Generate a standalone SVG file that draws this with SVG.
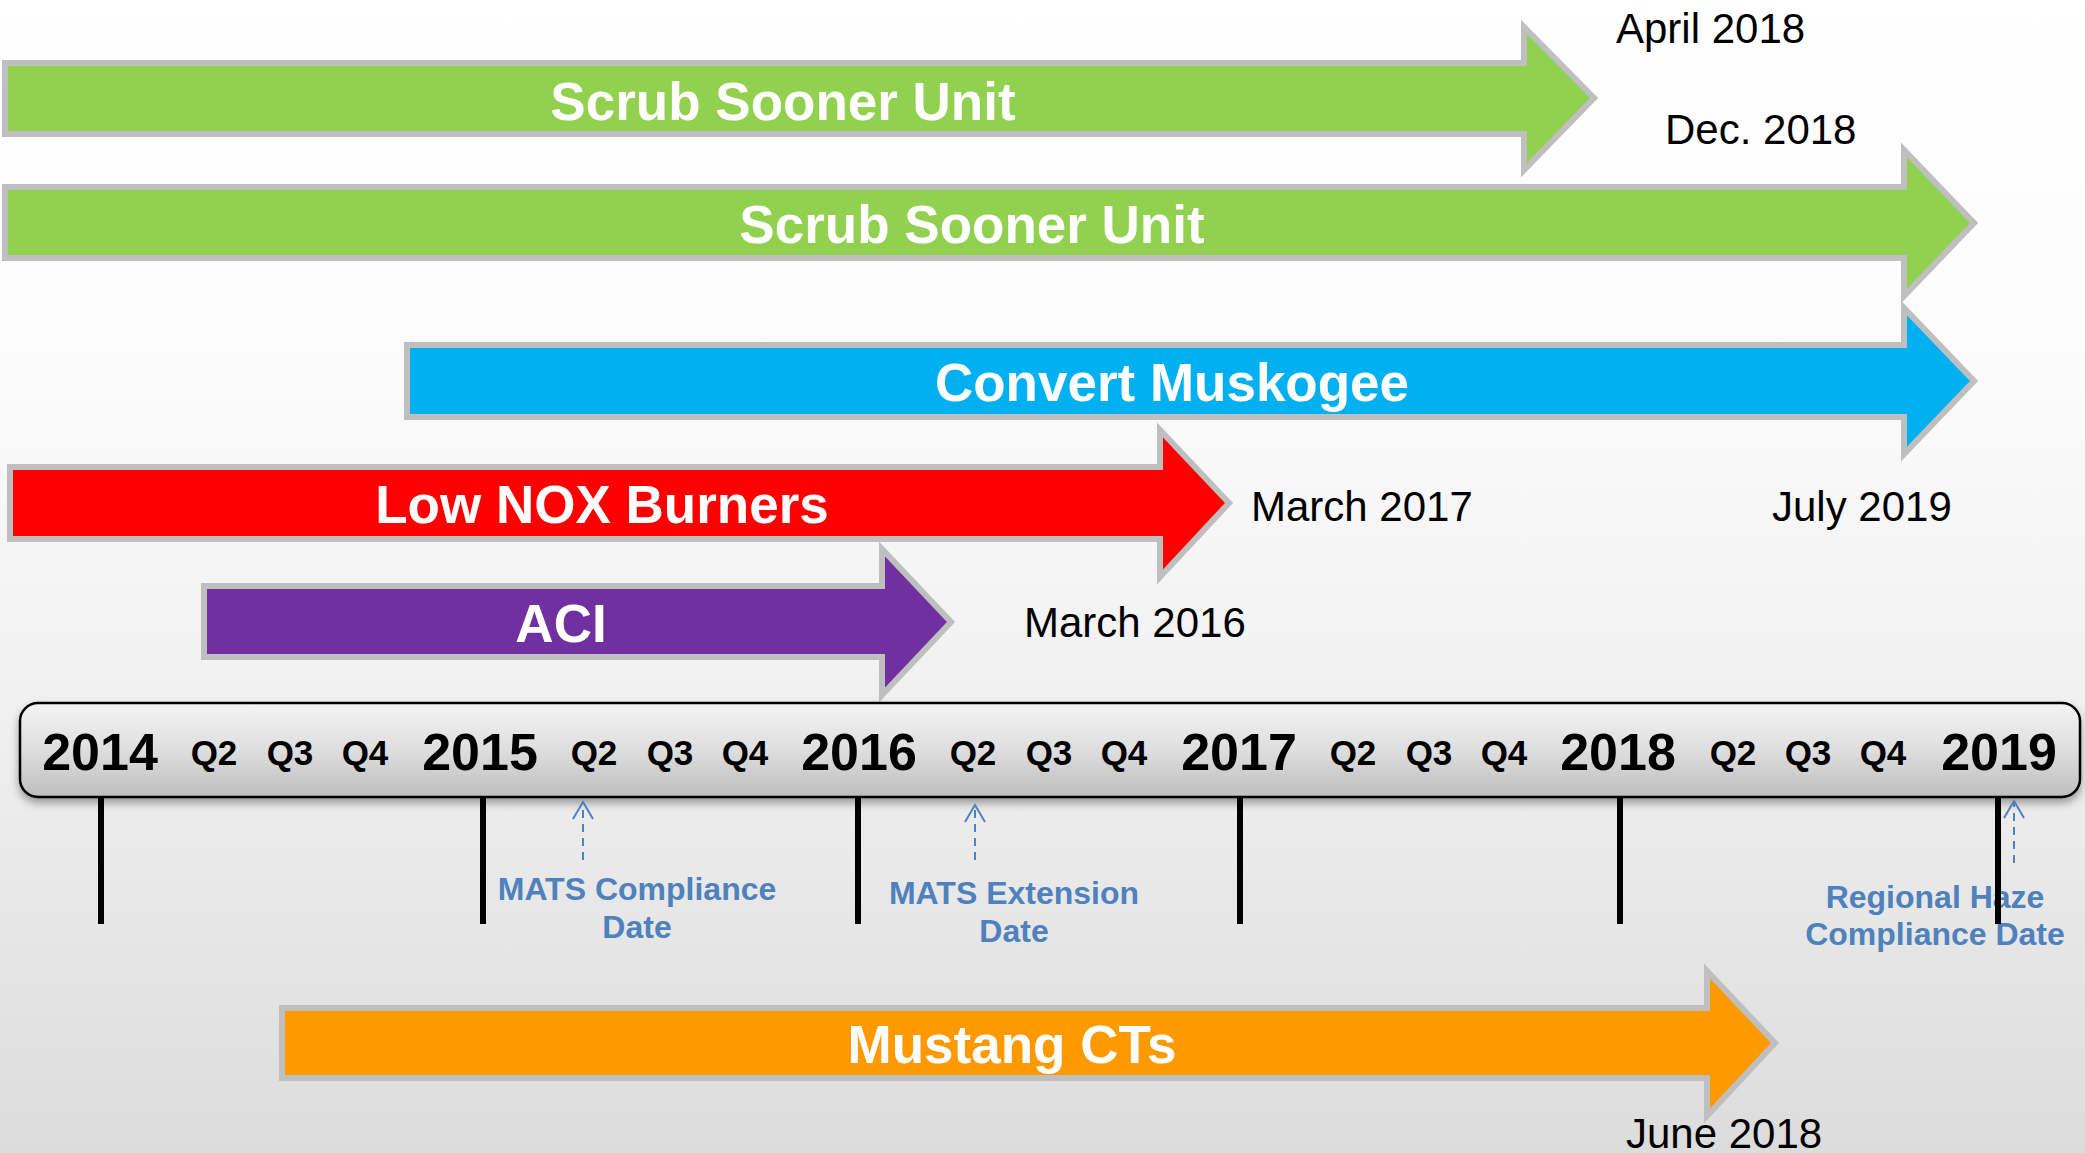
<svg xmlns="http://www.w3.org/2000/svg" width="2085" height="1153" viewBox="0 0 2085 1153">
  <defs>
    <linearGradient id="bg" x1="0" y1="0" x2="0" y2="1">
      <stop offset="0" stop-color="#ffffff"/>
      <stop offset="0.3" stop-color="#fcfcfc"/>
      <stop offset="0.6" stop-color="#f1f1f1"/>
      <stop offset="1" stop-color="#dcdcdc"/>
    </linearGradient>
    <linearGradient id="barGrad" x1="0" y1="0" x2="0" y2="1">
      <stop offset="0" stop-color="#f4f4f4"/>
      <stop offset="0.5" stop-color="#dedede"/>
      <stop offset="1" stop-color="#bebebe"/>
    </linearGradient>
    <filter id="shadow" x="-5%" y="-30%" width="110%" height="170%">
      <feDropShadow dx="0" dy="5" stdDeviation="4" flood-color="#000" flood-opacity="0.35"/>
    </filter>
    <marker id="openArrow" viewBox="-20 -12 22 24" refX="0" refY="0" markerWidth="22" markerHeight="24" markerUnits="userSpaceOnUse" orient="auto">
      <path d="M-17,-10 L0,0 L-17,10" fill="none" stroke="#4F81BD" stroke-width="2"/>
    </marker>
    <style>
      .arrow { stroke: #BFBFBF; stroke-width: 6; stroke-linejoin: miter; stroke-miterlimit: 10; }
      .lbl { font-family: "Liberation Sans", Arial, sans-serif; font-weight: bold; font-size: 53px; fill: #ffffff; text-anchor: middle; }
      .date { font-family: "Liberation Sans", Arial, sans-serif; font-size: 42px; fill: #000000; }
      .yr { font-family: "Liberation Sans", Arial, sans-serif; font-weight: bold; font-size: 52px; fill: #000000; text-anchor: middle; }
      .q { font-family: "Liberation Sans", Arial, sans-serif; font-weight: bold; font-size: 35px; fill: #000000; text-anchor: middle; }
      .note { font-family: "Liberation Sans", Arial, sans-serif; font-weight: bold; font-size: 32px; fill: #4F81BD; text-anchor: middle; }
      .tick { stroke: #000000; stroke-width: 6; }
      .dash { stroke: #4F81BD; stroke-width: 2; stroke-dasharray: 8 6; fill: none; }
    </style>
  </defs>

  <rect x="0" y="0" width="2085" height="1153" fill="url(#bg)"/>

  <g id="scrub-sooner-1">
    <path class="arrow" fill="#92D050" d="M5,63 L1524,63 L1524,27 L1594,98 L1524,170 L1524,134 L5,134 Z"/>
    <text class="lbl" x="783" y="120">Scrub Sooner Unit</text>
    <text class="date" x="1616" y="43">April 2018</text>
  </g>

  <g id="scrub-sooner-2">
    <path class="arrow" fill="#92D050" d="M5,187 L1904,187 L1904,150 L1974,223 L1904,296 L1904,258 L5,258 Z"/>
    <text class="lbl" x="972" y="243">Scrub Sooner Unit</text>
    <text class="date" x="1665" y="144">Dec. 2018</text>
  </g>

  <g id="convert-muskogee">
    <path class="arrow" fill="#00B0F0" d="M407,345 L1904,345 L1904,308 L1974,381 L1904,454 L1904,417 L407,417 Z"/>
    <text class="lbl" x="1172" y="401">Convert Muskogee</text>
    <text class="date" x="1772" y="521">July 2019</text>
  </g>

  <g id="low-nox-burners">
    <path class="arrow" fill="#FF0000" d="M10,467 L1160,467 L1160,430 L1229,503 L1160,577 L1160,539 L10,539 Z"/>
    <text class="lbl" x="602" y="523">Low NOX Burners</text>
    <text class="date" x="1251" y="521">March 2017</text>
  </g>

  <g id="aci">
    <path class="arrow" fill="#7030A0" d="M204,586 L882,586 L882,549 L951,622 L882,695 L882,657 L204,657 Z"/>
    <text class="lbl" x="561" y="642">ACI</text>
    <text class="date" x="1024" y="637">March 2016</text>
  </g>

  <g id="mustang-cts">
    <path class="arrow" fill="#FF9900" d="M282,1008 L1707,1008 L1707,971 L1775,1043 L1707,1116 L1707,1078 L282,1078 Z"/>
    <text class="lbl" x="1012" y="1063">Mustang CTs</text>
    <text class="date" x="1626" y="1148">June 2018</text>
  </g>

  <g id="timeline">
    <rect x="20" y="703" width="2060" height="94" rx="18" ry="18" fill="url(#barGrad)" stroke="#000000" stroke-width="2.5" filter="url(#shadow)"/>
    <text class="yr" x="100" y="770">2014</text>
    <text class="q" x="214" y="765">Q2</text>
    <text class="q" x="290" y="765">Q3</text>
    <text class="q" x="365" y="765">Q4</text>
    <text class="yr" x="480" y="770">2015</text>
    <text class="q" x="594" y="765">Q2</text>
    <text class="q" x="670" y="765">Q3</text>
    <text class="q" x="745" y="765">Q4</text>
    <text class="yr" x="859" y="770">2016</text>
    <text class="q" x="973" y="765">Q2</text>
    <text class="q" x="1049" y="765">Q3</text>
    <text class="q" x="1124" y="765">Q4</text>
    <text class="yr" x="1239" y="770">2017</text>
    <text class="q" x="1353" y="765">Q2</text>
    <text class="q" x="1429" y="765">Q3</text>
    <text class="q" x="1504" y="765">Q4</text>
    <text class="yr" x="1618" y="770">2018</text>
    <text class="q" x="1733" y="765">Q2</text>
    <text class="q" x="1808" y="765">Q3</text>
    <text class="q" x="1883" y="765">Q4</text>
    <text class="yr" x="1999" y="770">2019</text>
  </g>

  <g id="mats-compliance">
    <text class="note" x="637" y="900">MATS Compliance</text>
    <text class="note" x="637" y="938">Date</text>
  </g>

  <g id="mats-extension">
    <text class="note" x="1014" y="904">MATS Extension</text>
    <text class="note" x="1014" y="942">Date</text>
  </g>

  <g id="regional-haze">
    <text class="note" x="1935" y="908">Regional Haze</text>
    <text class="note" x="1935" y="945">Compliance Date</text>
  </g>

  <g id="connectors">
    <line class="tick" x1="101" y1="798" x2="101" y2="924"/>
    <line class="tick" x1="483" y1="798" x2="483" y2="924"/>
    <line class="tick" x1="858" y1="798" x2="858" y2="924"/>
    <line class="tick" x1="1240" y1="798" x2="1240" y2="924"/>
    <line class="tick" x1="1620" y1="798" x2="1620" y2="924"/>
    <line class="tick" x1="1998" y1="798" x2="1998" y2="924"/>
    <line class="dash" x1="583" y1="860" x2="583" y2="802" marker-end="url(#openArrow)"/>
    <line class="dash" x1="975" y1="860" x2="975" y2="805" marker-end="url(#openArrow)"/>
    <line class="dash" x1="2014" y1="863" x2="2014" y2="801" marker-end="url(#openArrow)"/>
  </g>
</svg>
